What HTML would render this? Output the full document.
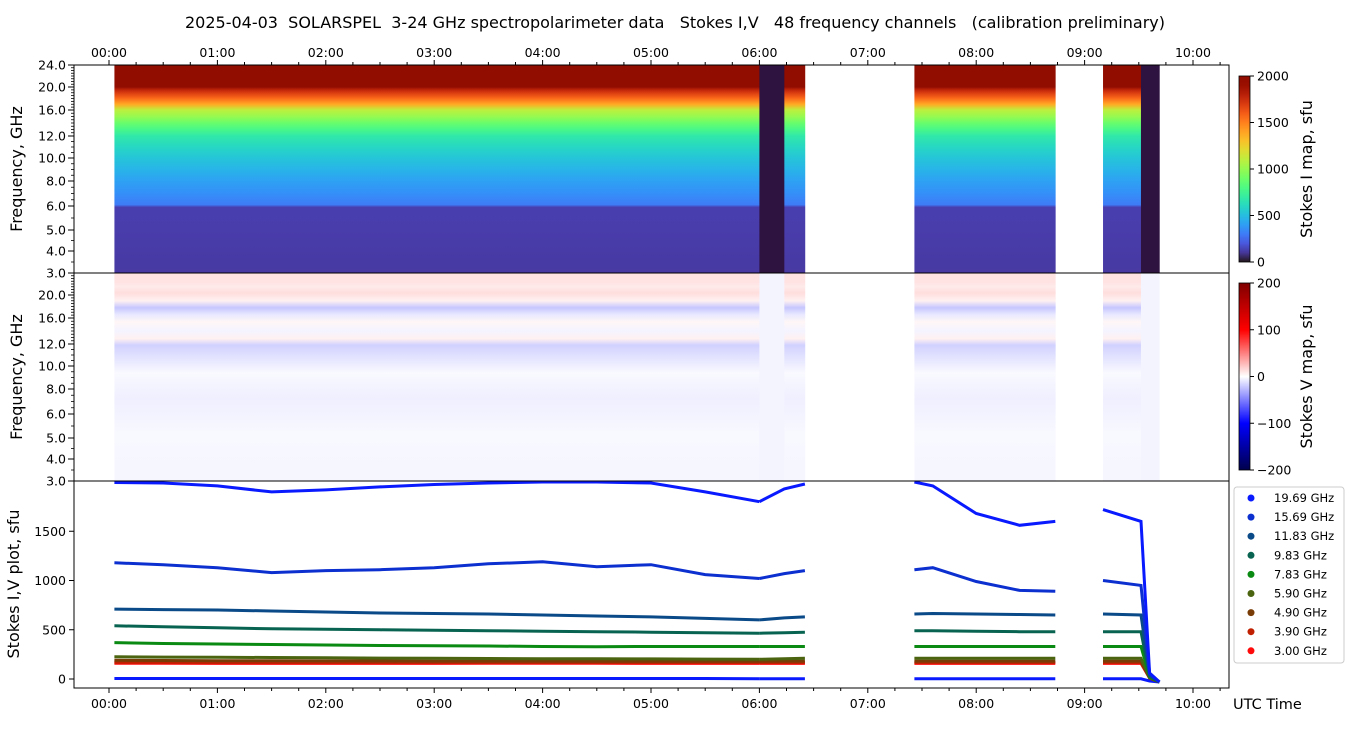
<!DOCTYPE html>
<html><head><meta charset="utf-8"><style>
body{margin:0;background:#fff;}
svg{font-family:"DejaVu Sans","Liberation Sans",sans-serif;}
</style></head><body>
<svg id="c" width="1350" height="725" viewBox="0 0 1350 725">
<text x="675" y="28" text-anchor="middle" font-size="16" style="white-space:pre" xml:space="preserve">2025-04-03  SOLARSPEL  3-24 GHz spectropolarimeter data   Stokes I,V   48 frequency channels   (calibration preliminary)</text>
</svg>
<script>
// ---------- data ----------
const hourTicks=["00:00","01:00","02:00","03:00","04:00","05:00","06:00","07:00","08:00","09:00","10:00"];
const freqTicks=[3,4,5,6,8,10,12,16,20,24];
const segments=[[0.05,6.0],[6.0,6.23],[6.23,6.42],[7.43,8.73],[9.17,9.52],[9.52,9.69]];
const segmentDark=[0,1,0,0,0,1];
const specFreqs=[3,4,5,5.95,6.1,7,8,9,10,11,12,13,14,15,16,17,18,19,19.6,20,22,24];
const specI=[110,115,120,125,300,360,410,470,530,600,680,780,880,1000,1100,1380,1560,1700,1800,2000,2200,2300];
const vFreqs=[3.5,5.2,7.2,9.4,11.9,12.8,14,15.4,16.6,17.8,19,20.4,21.5,22.4];
const vVals=[-8,-6,-14,-5,-40,12,-10,8,-20,-50,12,30,18,25];
const lineLabels=["19.69 GHz","15.69 GHz","11.83 GHz","9.83 GHz","7.83 GHz","5.90 GHz","4.90 GHz","3.90 GHz","3.00 GHz"];
const lineColors=["#0a1aff","#0c2fd0","#0a4a88","#086450","#0a8a12","#4a6410","#7a3c06","#c02000","#ff0a0a"];
const seriesTimes=[0.05,0.5,1.0,1.5,2.0,2.5,3.0,3.5,4.0,4.5,5.0,5.5,6.0,6.23,6.42,7.43,7.6,8.0,8.4,8.73,9.17,9.52,9.6,9.69];
const seriesVals=[
[1995,1990,1960,1900,1920,1950,1975,1990,2000,2000,1990,1900,1800,1930,1980,2000,1960,1680,1560,1600,1720,1600,60,-30],
[1180,1160,1130,1080,1100,1110,1130,1170,1190,1140,1160,1060,1020,1070,1100,1110,1130,990,900,890,1000,950,60,-30],
[710,705,700,690,680,670,665,660,650,640,630,615,600,620,630,660,665,660,655,650,660,650,40,-30],
[540,530,520,510,505,500,495,490,485,480,475,470,465,470,475,490,490,485,480,480,480,480,30,-30],
[370,360,355,350,345,340,338,335,330,328,330,330,330,330,330,330,330,330,330,330,330,330,20,-30],
[225,222,220,218,215,212,210,208,206,205,204,202,200,205,210,210,210,210,210,210,210,210,15,-30],
[190,188,186,185,184,183,182,182,182,181,180,180,180,182,182,182,182,182,182,182,182,182,10,-30],
[170,170,168,168,168,168,168,168,168,168,168,168,168,168,168,168,168,168,168,168,168,168,10,-30],
[160,160,158,158,158,158,158,160,160,160,158,158,158,158,158,158,158,158,158,158,158,158,10,-30]];
const vLineVals=[5,5,5,5,5,5,5,5,5,5,5,5,2,2,2,2,2,2,2,2,2,2,-20,-30];
// ---------- layout ----------
const NS="http://www.w3.org/2000/svg", svg=document.getElementById('c');
const X0=74,X1=1229;
const xh=h=>109+h*108.4;
const P=[{t:65,b:273},{t:273,b:481},{t:481,b:688}];
const fTickOff=[0,22,43,67,92,115,137,163,186,208];
function yf(f,p){let i=0;while(i<freqTicks.length-2&&f>freqTicks[i+1])i++;
 const a=freqTicks[i],b=freqTicks[i+1],r=(f-a)/(b-a);return P[p].b-(fTickOff[i]+r*(fTickOff[i+1]-fTickOff[i]));}
const ys=v=>679-v*0.0985;
function el(t,a,par){const e=document.createElementNS(NS,t);for(const k in a)e.setAttribute(k,a[k]);(par||svg).appendChild(e);return e;}
function turbo(t){t=Math.max(0,Math.min(1,t));
 const r=0.13572138+t*(4.6153926+t*(-42.66032258+t*(132.13108234+t*(-152.94239396+t*59.28637943))));
 const g=0.09140261+t*(2.19418839+t*(4.84296658+t*(-14.18503333+t*(4.27729857+t*2.82956604))));
 const b=0.1066733+t*(12.64194608+t*(-60.58204836+t*(110.36276771+t*(-89.90310912+t*27.34824973))));
 const c=v=>Math.round(255*Math.max(0,Math.min(1,v)));return `rgb(${c(r)},${c(g)},${c(b)})`;}
function seismic(v){let t=v/200;t=Math.max(-1,Math.min(1,t));
 if(t>=0){const k=Math.round(255*(1-t*0.9));return `rgb(255,${k},${k})`;}
 const k=Math.round(255*(1+t*0.9));return `rgb(${k},${k},255)`;}
function clip(id,p){const cp=el('clipPath',{id:id});el('rect',{x:X0,y:P[p].t,width:X1-X0,height:P[p].b-P[p].t},cp);}
const defs=el('defs',{});
clip('cp0',0);clip('cp1',1);clip('cp2',2);
// spectrum gradient built from data
const gS=el('linearGradient',{id:'gS',gradientUnits:'userSpaceOnUse',x1:0,y1:P[0].b,x2:0,y2:P[0].t},defs);
specFreqs.forEach((f,i)=>el('stop',{offset:((P[0].b-yf(f,0))/(P[0].b-P[0].t)).toFixed(4),'stop-color':turbo(specI[i]/2000)},gS));
const gVb=el('linearGradient',{id:'gVb',gradientUnits:'userSpaceOnUse',x1:0,y1:P[1].b,x2:0,y2:P[1].t},defs);
vFreqs.forEach((f,i)=>el('stop',{offset:((P[1].b-yf(f,1))/(P[1].b-P[1].t)).toFixed(4),'stop-color':seismic(vVals[i])},gVb));
// ---------- panel 1: Stokes I ----------
const g0=el('g',{'clip-path':'url(#cp0)'});


segments.forEach((s,si)=>{
 const r=el('rect',{x:xh(s[0]),y:P[0].t,width:xh(s[1])-xh(s[0])+0.3,height:P[0].b-P[0].t,fill:segmentDark[si]?'#2e1240':'url(#gS)'},g0);
 
 
});
// ---------- panel 2: Stokes V ----------
const g1=el('g',{'clip-path':'url(#cp1)'});


segments.forEach((s,si)=>{
 const r=el('rect',{x:xh(s[0]),y:P[1].t,width:xh(s[1])-xh(s[0])+0.3,height:P[1].b-P[1].t,fill:segmentDark[si]?'#f4f4ff':'url(#gVb)'},g1);
 
 
});
// ---------- panel 3: lines ----------
const g2=el('g',{'clip-path':'url(#cp2)'});


function drawSeries(vals,color,name){
 const groups=[[0,12],[12,14],[15,19],[20,23]];
 groups.forEach(([a,b])=>{let pts=[];for(let i=a;i<=b;i++)pts.push(xh(seriesTimes[i]).toFixed(1)+','+ys(vals[i]).toFixed(1));
  const pl=el('polyline',{points:pts.join(' '),fill:'none',stroke:color,'stroke-width':3},g2);
  
  });
}
drawSeries(vLineVals,'#0a1aff','stokes-v-line');
for(let k=seriesVals.length-1;k>=0;k--)drawSeries(seriesVals[k],lineColors[k],'line-'+lineLabels[k].replace(/[ .]/g,'-').toLowerCase());
// ---------- frames & axes ----------
P.forEach((p,i)=>{const r=el('rect',{x:X0,y:p.t,width:X1-X0,height:p.b-p.t,fill:'none',stroke:'#000','stroke-width':1});
 });
function txt(x,y,s,a,extra){const t=el('text',Object.assign({x:x,y:y,'font-size':12.5,'text-anchor':a||'middle'},extra||{}));t.textContent=s;return t;}
for(let m=0;m<=10.5*60;m+=15){const h=m/60,x=xh(h);if(x<X0||x>X1)continue;const major=m%60==0;const L=major?5:3;
 el('line',{x1:x,y1:P[0].t,x2:x,y2:P[0].t-L,stroke:'#000'});
 el('line',{x1:x,y1:P[2].b,x2:x,y2:P[2].b+L,stroke:'#000'});}
hourTicks.forEach((s,i)=>{const x=xh(i);
 const a=txt(x,57,s);
 const b=txt(x,708,s);});
const ut=txt(1233,709,'UTC Time','start',{'font-size':14.5});
[0,1].forEach(p=>{
 for(let f=3;f<=24.001;f+=0.5){const y=yf(f,p);el('line',{x1:X0,y1:y,x2:X0-3,y2:y,stroke:'#000','stroke-width':0.8});}
 freqTicks.forEach(f=>{if(p==1&&f==24)return;const y=yf(f,p);el('line',{x1:X0,y1:y,x2:X0-6,y2:y,stroke:'#000'});
  const t=txt(X0-8,y+4.5,f.toFixed(1),'end');});
 const yt=(P[p].t+P[p].b)/2;const t=txt(22,yt,'Frequency, GHz','middle',{'font-size':16,transform:`rotate(-90 22 ${yt})`});
 
});
[0,500,1000,1500].forEach(v=>{const y=ys(v);el('line',{x1:X0,y1:y,x2:X0-5,y2:y,stroke:'#000'});
 const t=txt(X0-8,y+4.5,String(v),'end');});
const st=txt(19,584,'Stokes I,V plot, sfu','middle',{'font-size':16,transform:'rotate(-90 19 584)'});

const gI=el('linearGradient',{id:'gI',x1:0,y1:1,x2:0,y2:0},defs);
for(let i=0;i<=20;i++)el('stop',{offset:i/20,'stop-color':turbo(i/20)},gI);
const gV=el('linearGradient',{id:'gV',x1:0,y1:1,x2:0,y2:0},defs);
[[0,'#00004c'],[0.25,'#0000ff'],[0.5,'#ffffff'],[0.75,'#ff0000'],[1,'#800000']].forEach(s=>el('stop',{offset:s[0],'stop-color':s[1]},gV));
function cbar(y0,y1,grad,vals,title,name){const r=el('rect',{x:1239,y:y0,width:11,height:y1-y0,fill:`url(#${grad})`,stroke:'#000','stroke-width':0.8});
 
 vals.forEach((v,i)=>{const y=y1-(y1-y0)*i/(vals.length-1);el('line',{x1:1250,y1:y,x2:1254,y2:y,stroke:'#000'});
  const t=txt(1257,y+4.5,v,'start');});
 const ym=(y0+y1)/2;const t=txt(1312,ym,title,'middle',{'font-size':16,transform:`rotate(-90 1312 ${ym})`});
 }
cbar(76,262,'gI',['0','500','1000','1500','2000'],'Stokes I map, sfu','stokes-i-colorbar');
cbar(283,470,'gV',['\u2212200','\u2212100','0','100','200'],'Stokes V map, sfu','stokes-v-colorbar');
const lg=el('g',{});
el('rect',{x:1234,y:487,width:110,height:176,rx:3,fill:'#fff',stroke:'#ccc'},lg);
lineLabels.forEach((s,i)=>{const y=498+i*19.1;
 const c=el('circle',{cx:1251,cy:y,r:3.5,fill:lineColors[i]},lg);
 const t=txt(1274,y+4,s,'start',{'font-size':11.5});lg.appendChild(t);});
</script>
</body></html>
